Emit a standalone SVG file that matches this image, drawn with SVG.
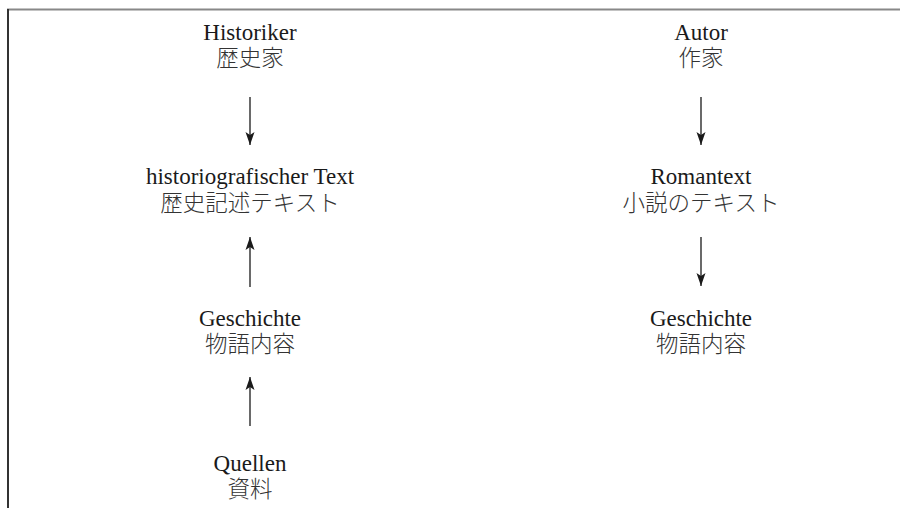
<svg xmlns="http://www.w3.org/2000/svg" width="900" height="508" viewBox="0 0 900 508">
<style>
text{text-anchor:middle}
.lat{font-family:"Liberation Serif","Times New Roman",serif;font-size:23px;fill:#1a1a1a}
.cjk{font-family:"Noto Sans CJK JP","Noto Sans CJK SC",sans-serif;font-size:22.5px;fill:#333;font-weight:300}
.con{stroke:#1a1a1a;stroke-width:1.3;fill:none;marker-end:url(#ah)}
</style>
<defs>
<marker id="ah" markerUnits="userSpaceOnUse" markerWidth="16" markerHeight="12" viewBox="-14 -6 16 12" refX="0" refY="0" orient="auto">
<path d="M0,0 L-13,-4.5 L-10,0 L-13,4.5 Z" fill="#1a1a1a"/>
</marker>
</defs>
<rect width="900" height="508" fill="#fff"/>
<g id="frame">
<line x1="7" y1="9.5" x2="900" y2="9.5" stroke="#888" stroke-width="2"/>
<line x1="8" y1="9" x2="8" y2="508" stroke="#333" stroke-width="2"/>
</g>
<g id="connectors">
<line class="con" x1="250" y1="97" x2="250" y2="145"/>
<line class="con" x1="250" y1="287" x2="250" y2="237"/>
<line class="con" x1="250" y1="426" x2="250" y2="377"/>
<line class="con" x1="701" y1="97" x2="701" y2="145"/>
<line class="con" x1="701" y1="237" x2="701" y2="286"/>
</g>
<g id="historiker"><text><tspan class="lat" x="250" y="40">Historiker</tspan><tspan class="cjk" x="250" y="66">歴史家</tspan></text></g>
<g id="histtext"><text><tspan class="lat" x="250" y="184">historiografischer Text</tspan><tspan class="cjk" x="250" y="211">歴史記述テキスト</tspan></text></g>
<g id="geschichte-l"><text><tspan class="lat" x="250" y="326">Geschichte</tspan><tspan class="cjk" x="250" y="352">物語内容</tspan></text></g>
<g id="quellen"><text><tspan class="lat" x="250" y="471">Quellen</tspan><tspan class="cjk" x="250" y="497">資料</tspan></text></g>
<g id="autor"><text><tspan class="lat" x="701" y="40">Autor</tspan><tspan class="cjk" x="701" y="66">作家</tspan></text></g>
<g id="romantext"><text><tspan class="lat" x="701" y="184">Romantext</tspan><tspan class="cjk" x="701" y="211">小説のテキスト</tspan></text></g>
<g id="geschichte-r"><text><tspan class="lat" x="701" y="326">Geschichte</tspan><tspan class="cjk" x="701" y="352">物語内容</tspan></text></g>
</svg>
